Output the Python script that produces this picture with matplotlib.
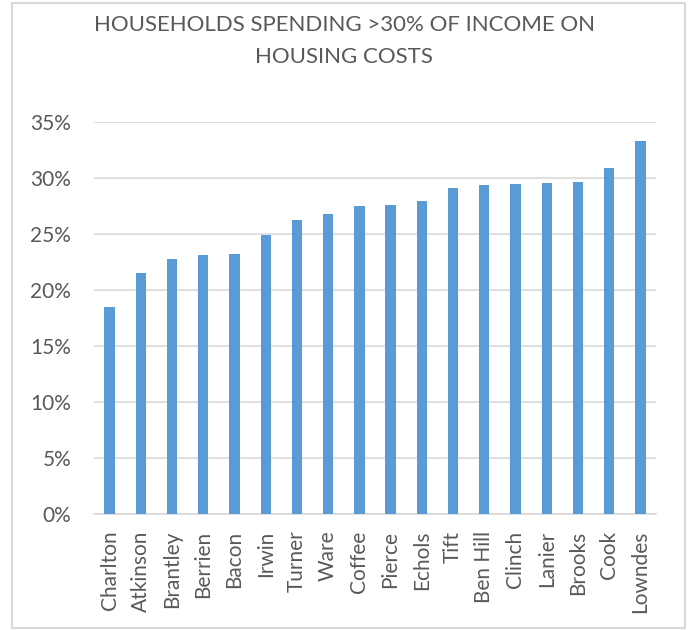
import matplotlib.pyplot as plt
from matplotlib.patches import Rectangle
from matplotlib.ticker import PercentFormatter

counties = ['Charlton', 'Atkinson', 'Brantley', 'Berrien', 'Bacon', 'Irwin',
            'Turner', 'Ware', 'Coffee', 'Pierce', 'Echols', 'Tift', 'Ben Hill',
            'Clinch', 'Lanier', 'Brooks', 'Cook', 'Lowndes']
share = [18.5, 21.5, 22.8, 23.1, 23.2, 24.9, 26.25, 26.8, 27.5, 27.6, 27.95,
         29.1, 29.4, 29.45, 29.55, 29.65, 30.9, 33.3]
yticks = [0, 5, 10, 15, 20, 25, 30, 35]
title_lines = ['HOUSEHOLDS SPENDING >30% OF INCOME ON', 'HOUSING COSTS']

plt.rcParams['font.family'] = ['Lato', 'DejaVu Sans']
grey = '#595959'

fig = plt.figure(figsize=(6.88, 6.3), dpi=100)
ax = fig.add_axes([94 / 688, 116 / 630, (656 - 94) / 688, 392 / 630])

x = range(len(counties))
ax.bar(x, share, width=0.33, color='#5B9BD5', zorder=3)

ax.set_xlim(-0.5, len(counties) - 0.5)
ax.set_ylim(0, 35)
ax.set_yticks(yticks)
ax.yaxis.set_major_formatter(PercentFormatter(decimals=0))
ax.set_xticks(list(x))
ax.set_xticklabels(counties, rotation=90)
ax.tick_params(axis='both', length=0, labelsize=15, labelcolor=grey)
ax.tick_params(axis='y', pad=16.5)
ax.tick_params(axis='x', pad=12)
ax.grid(axis='y', color='#D9D9D9', linewidth=1.2, zorder=0)
for s in ['top', 'right', 'left']:
    ax.spines[s].set_visible(False)
ax.spines['bottom'].set_color('#D9D9D9')
ax.spines['bottom'].set_linewidth(1.2)

# two title lines, centred on the chart
for line, ypix in zip(title_lines, [25, 57]):
    fig.text(0.5, 1 - ypix / 630, line, ha='center', va='center',
             fontsize=16, color=grey)

fig.patches.append(Rectangle((12 / 688, 2 / 630), 673 / 688, 625 / 630,
                             transform=fig.transFigure, fill=False,
                             edgecolor='#D9D9D9', linewidth=1.5))

fig.savefig('out.png', dpi=100)
